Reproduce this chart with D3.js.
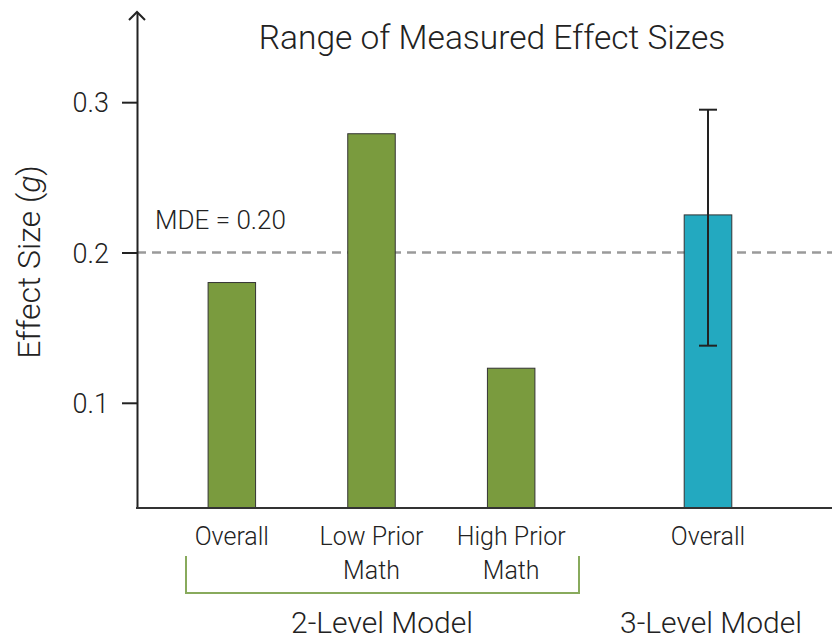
<!DOCTYPE html>
<html>
<head>
<meta charset="utf-8">
<script src="https://d3js.org/d3.v7.min.js"></script>
<style>
	body { margin: 0; background: #fff; }
	text { font-family: Roboto, 'Liberation Sans', Arial, sans-serif; font-weight: 300; fill: #222; }
</style>
</head>
<body>
<div id="chart-area"></div>
<script>

// data
const twoLevelCats = ['Overall', 'Low Prior|Math', 'High Prior|Math'];
const twoLevelValues = [0.180, 0.279, 0.123];
const threeLevelCats = ['Overall'];
const threeLevelValues = [0.225];
const threeLevelCI = [[0.138, 0.295]];
const yTicks = [0.1, 0.2, 0.3];
const mde = 0.20;
const modelNames = ['2-Level Model', '3-Level Model'];

const width = 832;
const height = 641;

const svg = d3.select('#chart-area').append('svg')
	.attr('width', width)
	.attr('height', height);

// y scale, bottom of the axis is not zero
let y = d3.scaleLinear()
	.domain([0.03, 0.36])
	.range([508, 12]);

// one band scale per model group
let x2 = d3.scaleBand()
	.domain(twoLevelCats)
	.range([162, 581])
	.paddingInner(0.66)
	.paddingOuter(0.33);

let x3 = d3.scaleBand()
	.domain(threeLevelCats)
	.range([638, 778])
	.paddingInner(0.66)
	.paddingOuter(0.33);

const axisX = 137;

// title
svg.append('text')
	.attr('x', 492)
	.attr('y', 49)
	.attr('font-size', '33.5px')
	.attr('text-anchor', 'middle')
	.text('Range of Measured Effect Sizes');

// y label
let yLabel = svg.append('text')
	.attr('x', -262)
	.attr('y', 40)
	.attr('font-size', '32px')
	.attr('text-anchor', 'middle')
	.attr('transform', 'rotate(-90)');
yLabel.append('tspan').text('Effect Size (');
yLabel.append('tspan').attr('font-style', 'italic').text('g');
yLabel.append('tspan').text(')');

// MDE reference line
svg.append('line')
	.attr('x1', axisX)
	.attr('x2', width)
	.attr('y1', y(mde))
	.attr('y2', y(mde))
	.attr('stroke', '#9a9a9a')
	.attr('stroke-width', 2.5)
	.attr('stroke-dasharray', '9,6');

svg.append('text')
	.attr('x', 155)
	.attr('y', 229)
	.attr('font-size', '26px')
	.text('MDE = ' + d3.format('.2f')(mde));

// bars, 2-level model
svg.selectAll('rect.two')
	.data(twoLevelCats)
	.enter()
	.append('rect')
		.attr('class', 'two')
		.attr('x', d => x2(d))
		.attr('y', (d, i) => y(twoLevelValues[i]))
		.attr('width', x2.bandwidth())
		.attr('height', (d, i) => y.range()[0] - y(twoLevelValues[i]))
		.attr('fill', '#7a9b3e')
		.attr('stroke', '#333')
		.attr('stroke-width', 1);

// bars, 3-level model
svg.selectAll('rect.three')
	.data(threeLevelCats)
	.enter()
	.append('rect')
		.attr('class', 'three')
		.attr('x', d => x3(d))
		.attr('y', (d, i) => y(threeLevelValues[i]))
		.attr('width', x3.bandwidth())
		.attr('height', (d, i) => y.range()[0] - y(threeLevelValues[i]))
		.attr('fill', '#23a9c0')
		.attr('stroke', '#333')
		.attr('stroke-width', 1);

// error bar
threeLevelCats.forEach((d, i) => {
	let cx = x3(d) + x3.bandwidth() / 2;
	let lo = y(threeLevelCI[i][0]);
	let hi = y(threeLevelCI[i][1]);
	let eb = svg.append('g')
		.attr('stroke', '#222')
		.attr('stroke-width', 2);
	eb.append('line').attr('x1', cx).attr('x2', cx).attr('y1', hi).attr('y2', lo);
	eb.append('line').attr('x1', cx - 9).attr('x2', cx + 9).attr('y1', hi).attr('y2', hi);
	eb.append('line').attr('x1', cx - 9).attr('x2', cx + 9).attr('y1', lo).attr('y2', lo);
});

// y axis
let yAxisCall = d3.axisLeft(y)
	.tickValues(yTicks)
	.tickSize(15)
	.tickSizeOuter(0)
	.tickPadding(13)
	.tickFormat(d3.format('.1f'));
let yAxis = svg.append('g')
	.attr('transform', 'translate(' + axisX + ', 0)')
	.call(yAxisCall);
yAxis.select('.domain').attr('stroke', '#222').attr('stroke-width', 2);
yAxis.selectAll('.tick line').attr('stroke', '#222').attr('stroke-width', 2);
yAxis.attr('font-family', null).attr('font-size', null);
yAxis.selectAll('.tick text')
	.attr('font-size', '27px')
	.attr('fill', '#222')
	.attr('dy', '0.36em');

// arrow head on the y axis
svg.append('path')
	.attr('d', 'M' + (axisX - 8) + ',' + (y.range()[1] + 8) + 'L' + axisX + ',' + y.range()[1]
		+ 'L' + (axisX + 8) + ',' + (y.range()[1] + 8))
	.attr('fill', 'none')
	.attr('stroke', '#222')
	.attr('stroke-width', 2);

// x axis line
svg.append('line')
	.attr('x1', axisX - 1)
	.attr('x2', width)
	.attr('y1', y.range()[0])
	.attr('y2', y.range()[0])
	.attr('stroke', '#333')
	.attr('stroke-width', 2);

// category labels, split on '|'
function catLabels(cats, scale) {
	cats.forEach(d => {
		let t = svg.append('text')
			.attr('font-size', '25px')
			.attr('text-anchor', 'middle');
		d.split('|').forEach((line, j) => {
			t.append('tspan')
				.attr('x', scale(d) + scale.bandwidth() / 2)
				.attr('y', 545 + j * 34)
				.text(line);
		});
	});
}
catLabels(twoLevelCats, x2);
catLabels(threeLevelCats, x3);

// bracket under the 2-level group
svg.append('path')
	.attr('d', 'M186,556V593H579V556')
	.attr('fill', 'none')
	.attr('stroke', '#88aa5c')
	.attr('stroke-width', 2);

// model names
svg.append('text')
	.attr('x', 382)
	.attr('y', 633)
	.attr('font-size', '30px')
	.attr('text-anchor', 'middle')
	.text(modelNames[0]);

svg.append('text')
	.attr('x', 711)
	.attr('y', 633)
	.attr('font-size', '30px')
	.attr('text-anchor', 'middle')
	.text(modelNames[1]);

</script>
</body>
</html>
